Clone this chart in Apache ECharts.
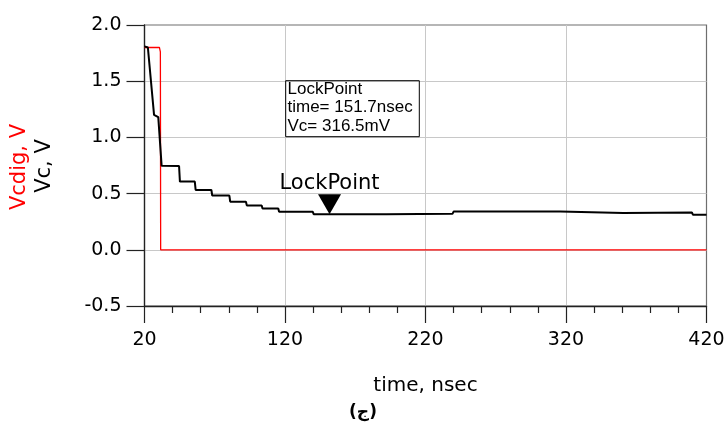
<!DOCTYPE html>
<html>
<head>
<meta charset="utf-8">
<script src="https://cdn.jsdelivr.net/npm/echarts@6/dist/echarts.min.js"></script>
<style>
html,body{margin:0;padding:0;background:#fff;}
#chart{width:728px;height:433px;}
</style>
</head>
<body>
<div id="chart"></div>
<script>
// ---- data ----
var vcTime  = [20, 22.4, 26.8, 29.8, 32.2, 44.6, 45.2, 55.8, 56.4, 67.6, 68.2, 80.4, 81.0, 92.2, 92.8, 103.4, 104.0, 115.2, 115.8, 139.8, 140.4, 192, 192.5, 239.2, 240, 315.8, 316.4, 360.8, 361.6, 409.6, 410.4, 420];
var vcValue = [1.81, 1.80, 1.20, 1.18, 0.747, 0.745, 0.607, 0.607, 0.532, 0.532, 0.483, 0.483, 0.428, 0.428, 0.395, 0.395, 0.368, 0.368, 0.338, 0.338, 0.317, 0.317, 0.32, 0.32, 0.340, 0.340, 0.327, 0.327, 0.332, 0.332, 0.311, 0.311];
var vcdigTime  = [20, 30.6, 31.3, 31.5, 420];
var vcdigValue = [1.8, 1.8, 1.76, 0, 0];
var lockTime = 151.7;      // nsec
var lockValueMV = 316.5;   // mV
var xTicks = [20, 120, 220, 320, 420];
var yTicks = [-0.5, 0.0, 0.5, 1.0, 1.5, 2.0];

function zip(a, b) { return a.map(function (v, i) { return [v, b[i]]; }); }

var chart = echarts.init(document.getElementById('chart'), null, {renderer: 'canvas'});
var axisColor = '#222';
var gridColor = '#c8c8c8';
var option = {
  animation: false,
  backgroundColor: '#fff',
  grid: {left: 144.5, right: 21.5, top: 25, bottom: 127, show: true, borderColor: '#6e6e6e', borderWidth: 1.2},
  xAxis: {
    type: 'value', min: xTicks[0], max: xTicks[xTicks.length - 1], interval: 100,
    axisLine: {show: true, onZero: false, lineStyle: {color: axisColor, width: 1.3}},
    axisTick: {show: true, length: 17, lineStyle: {color: axisColor, width: 1.2}},
    minorTick: {show: true, splitNumber: 5, length: 7, lineStyle: {color: axisColor, width: 1.2}},
    axisLabel: {fontFamily: 'DejaVu Sans', fontSize: 19, color: '#000', margin: 25},
    splitLine: {show: true, showMinLine: false, showMaxLine: false, lineStyle: {color: gridColor, width: 1}},
    name: 'time, nsec', nameLocation: 'middle', nameGap: 70,
    nameTextStyle: {fontFamily: 'DejaVu Sans', fontSize: 20, color: '#000'}
  },
  yAxis: {
    type: 'value', min: yTicks[0], max: yTicks[yTicks.length - 1], interval: 0.5,
    axisLine: {show: true, onZero: false, lineStyle: {color: axisColor, width: 1.3}},
    axisTick: {show: true, length: 18, lineStyle: {color: axisColor, width: 1.2}},
    axisLabel: {fontFamily: 'DejaVu Sans', fontSize: 19, color: '#000', margin: 23,
      formatter: function (v) { return v.toFixed(1); }},
    splitLine: {show: true, showMinLine: false, showMaxLine: false, lineStyle: {color: gridColor, width: 1}}
  },
  series: [
    {
      name: 'Vcdig', type: 'line', data: zip(vcdigTime, vcdigValue), symbol: 'none',
      lineStyle: {color: '#ff0000', width: 1.3}, z: 3
    },
    {
      name: 'Vc', type: 'line', data: zip(vcTime, vcValue), symbol: 'none',
      lineStyle: {color: '#000', width: 2}, z: 4,
      markPoint: {
        symbol: 'path://M0,0 L23,0 L11.5,20 Z',
        symbolSize: [23, 20],
        symbolOffset: [0, -10],
        itemStyle: {color: '#000'},
        data: [{coord: [lockTime, lockValueMV / 1000]}],
        label: {show: true, position: 'top', distance: 0, formatter: 'LockPoint',
          fontFamily: 'DejaVu Sans', fontSize: 21, color: '#000'}
      }
    }
  ],
  graphic: [
    {type: 'text', x: 19.5, y: 167, rotation: Math.PI / 2,
      style: {text: 'Vcdig, V', fill: '#ff0000', font: '21px "DejaVu Sans"', align: 'center', verticalAlign: 'middle'}},
    {type: 'text', x: 44.5, y: 166, rotation: Math.PI / 2,
      style: {text: 'Vc, V', fill: '#000', font: '21px "DejaVu Sans"', align: 'center', verticalAlign: 'middle'}},
    {type: 'rect', shape: {x: 285.7, y: 80.7, width: 133.6, height: 56},
      style: {fill: 'rgba(255,255,255,0)', stroke: '#000', lineWidth: 1}, z: 10},
    {type: 'text', x: 287.5, y: 80, z: 11,
      style: {text: 'LockPoint\ntime= ' + lockTime.toFixed(1) + 'nsec\nVc= ' + lockValueMV.toFixed(1) + 'mV',
        font: '17px "Liberation Sans"', lineHeight: 18.5, fill: '#000', align: 'left', verticalAlign: 'top'}},
    {type: 'text', x: 363, y: 413,
      style: {text: '(ج)', font: 'bold 17px "DejaVu Sans"', fill: '#000', align: 'center', verticalAlign: 'middle'}}
  ]
};
chart.setOption(option);
</script>
</body>
</html>
